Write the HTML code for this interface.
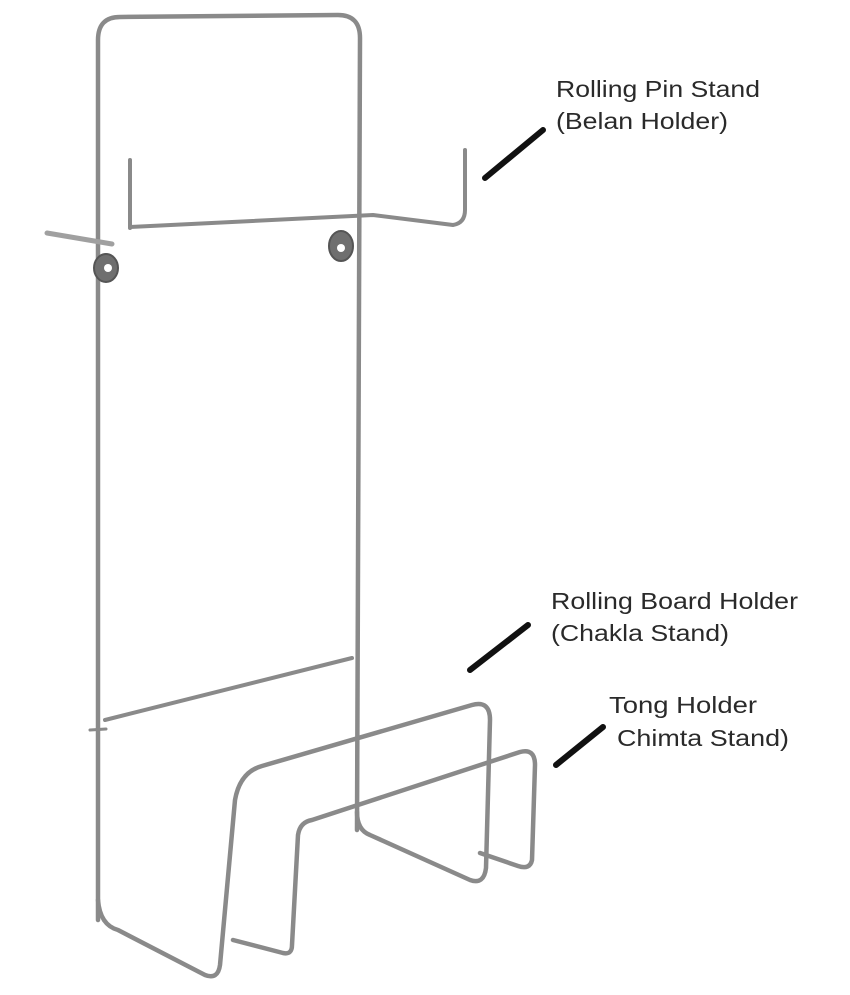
<!DOCTYPE html>
<html><head><style>
html,body{margin:0;padding:0;background:#fff;}
svg{display:block;}
text{font-family:"Liberation Sans",sans-serif;font-size:23px;fill:#2a2a2a;}
</style></head><body>
<svg width="850" height="995" viewBox="0 0 850 995">
<g fill="none" stroke="#8a8a8a" stroke-width="4.5" stroke-linecap="round" stroke-linejoin="round">
<path d="M98 920 L98 40 Q98 17 120 17 L338 15 Q360 15 360 38 L357 830"/>
<path d="M130 227 L373 215 L453 225 Q465 223 465 210 L465 150" stroke-width="4"/>
<path d="M130 228 L130 160" stroke-width="4"/>
<path d="M47 233 L112 244" stroke-width="5" stroke="#a0a0a0"/>
<path d="M105 720 L352 658" stroke-width="4"/>
<path d="M90 730 L106 729" stroke-width="3"/>
<path d="M98 900 Q100 925 118 930 L205 975 Q218 980 220 965 L235 800 Q240 772 262 766 L472 705 Q490 700 490 720 L486 868 Q484 885 470 880 L370 835 Q357 830 357 812"/>
<path d="M233 940 L283 953 Q292 955 292 945 L298 835 Q300 822 312 820 L520 752 Q535 748 535 765 L532 860 Q530 870 518 866 L480 853"/>
</g>
<g fill="#6f6f6f" stroke="#555" stroke-width="2">
<ellipse cx="106" cy="268" rx="12" ry="14"/>
<ellipse cx="341" cy="246" rx="12" ry="15"/>
</g>
<g fill="#fff">
<circle cx="108" cy="268" r="4"/>
<circle cx="341" cy="248" r="4"/>
</g>
<g stroke="#111" stroke-width="6" stroke-linecap="round">
<line x1="485" y1="178" x2="543" y2="130"/>
<line x1="470" y1="670" x2="528" y2="625"/>
<line x1="556" y1="765" x2="603" y2="727"/>
</g>
<text x="556" y="97" textLength="204" lengthAdjust="spacingAndGlyphs">Rolling Pin Stand</text>
<text x="556" y="129" textLength="172" lengthAdjust="spacingAndGlyphs">(Belan Holder)</text>
<text x="551" y="609" textLength="247" lengthAdjust="spacingAndGlyphs">Rolling Board Holder</text>
<text x="551" y="641" textLength="178" lengthAdjust="spacingAndGlyphs">(Chakla Stand)</text>
<text x="609" y="713" textLength="148" lengthAdjust="spacingAndGlyphs">Tong Holder</text>
<text x="617" y="746" textLength="172" lengthAdjust="spacingAndGlyphs">Chimta Stand)</text>
</svg>
</body></html>
